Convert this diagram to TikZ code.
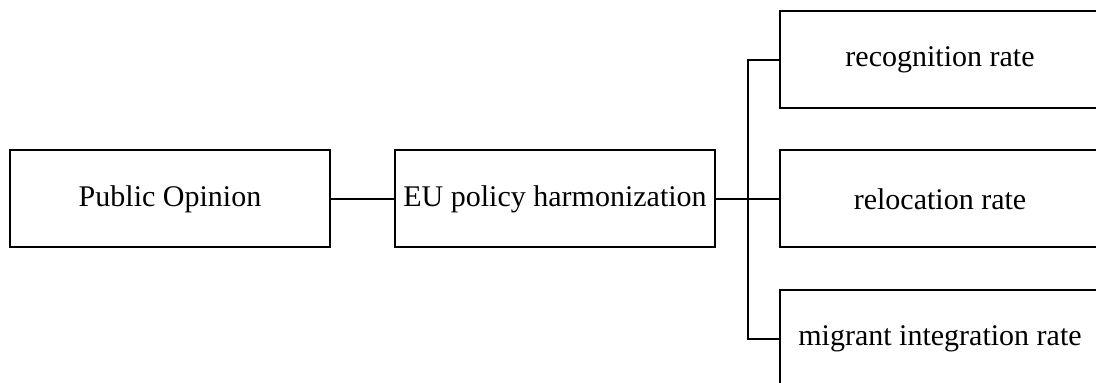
\documentclass[tikz,border=0pt]{standalone}
\usepackage{fontspec}
\setmainfont{Liberation Serif}
\usetikzlibrary{positioning}

\begin{document}
\begin{tikzpicture}[font=\fontsize{15pt}{18pt}\selectfont, line width=1pt,
  blk/.style={draw, line width=1pt, minimum width=160pt, minimum height=48.5pt, inner sep=1pt, align=center}]
\clip (0,0) rectangle (548pt,-191.5pt);
\node[blk] (po) at (85pt,-99.5pt) {Public Opinion};
\node[blk,right=31.5pt of po] (eu) {EU policy harmonization};
\node[blk,right=31.5pt of eu] (rel) {relocation rate};
\node[blk,above=20pt of rel] (rec) {recognition rate};
\node[blk,below=20.5pt of rel] (mig) {migrant integration rate};
\draw (po) -- (eu);
\draw (eu) -- (rel);
\draw (rec.west) -- ++(-15.75pt,0) |- (mig.west);
\end{tikzpicture}
\end{document}
